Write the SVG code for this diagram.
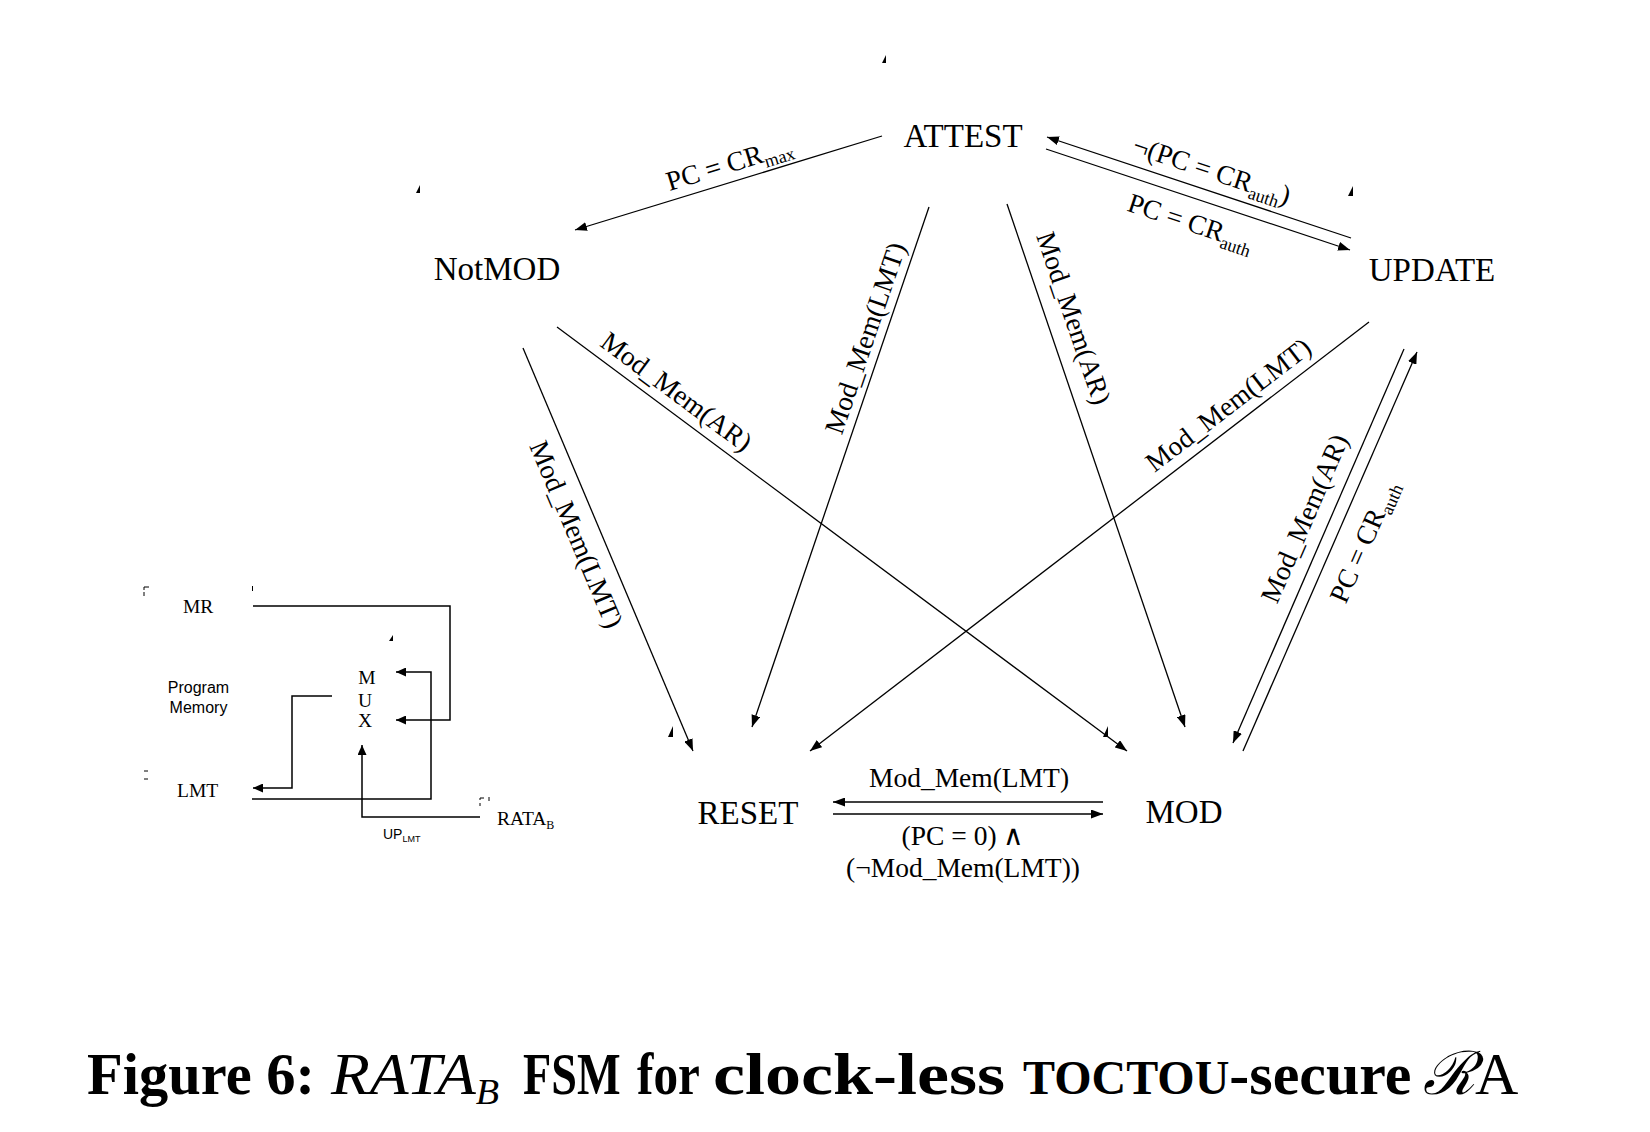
<svg xmlns="http://www.w3.org/2000/svg" width="1650" height="1132" viewBox="0 0 1650 1132">
<style>
.st{font-family:"Liberation Serif","Times New Roman",serif;font-size:33px;fill:#000}
.lb{font-family:"Liberation Serif","Times New Roman",serif;font-size:27.5px;fill:#000}
.sub{font-size:18px}
.e{stroke:#000;stroke-width:1.3;fill:none;marker-end:url(#ah)}
.m{stroke:#000;stroke-width:1.5;fill:none;marker-end:url(#ah2)}
.mt{font-family:"Liberation Serif","Times New Roman",serif;font-size:19.5px;fill:#000}
.sans{font-family:"Liberation Sans",Arial,sans-serif;fill:#000}
.cap{font-family:"Liberation Serif","Times New Roman",serif;font-size:60px;fill:#000}
.b{font-weight:bold}
.i{font-style:italic}
.art{fill:#000}
.mk{stroke:#000;stroke-width:1;fill:none}
</style>
<defs>
<marker id="ah" markerUnits="userSpaceOnUse" markerWidth="13" markerHeight="9" refX="12" refY="4.5" orient="auto">
<path d="M0,0 L12,4.5 L0,9 z" fill="#000"/>
</marker>
<marker id="ah2" markerUnits="userSpaceOnUse" markerWidth="11" markerHeight="9" refX="10" refY="4.5" orient="auto">
<path d="M0,0 L10,4.5 L0,9 z" fill="#000"/>
</marker>
</defs>
<rect width="1650" height="1132" fill="#fff"/>

<g id="connectors">
<line class="e" x1="882" y1="136" x2="575" y2="230"/>
<line class="e" x1="1351" y1="238" x2="1047" y2="137"/>
<line class="e" x1="1046" y1="149" x2="1350" y2="250"/>
<line class="e" x1="557" y1="327" x2="1127" y2="751"/>
<line class="e" x1="523" y1="348" x2="693" y2="751"/>
<line class="e" x1="929" y1="207" x2="752" y2="727"/>
<line class="e" x1="1007" y1="204" x2="1185" y2="727"/>
<line class="e" x1="1369" y1="322" x2="810" y2="751"/>
<line class="e" x1="1404" y1="349" x2="1233" y2="743"/>
<line class="e" x1="1243" y1="751" x2="1417" y2="352"/>
<line class="e" x1="1103" y1="802" x2="833" y2="802"/>
<line class="e" x1="833" y1="814" x2="1103" y2="814"/>

<text class="lb" text-anchor="middle" transform="translate(732,172) rotate(-17)">PC = CR<tspan class="sub" dy="6">max</tspan></text>
<text class="lb" text-anchor="middle" transform="translate(1209,179) rotate(18.4)">¬(PC = CR<tspan class="sub" dy="6">auth</tspan><tspan dy="-6">)</tspan></text>
<text class="lb" text-anchor="middle" transform="translate(1188,231) rotate(18.4)">PC = CR<tspan class="sub" dy="6">auth</tspan></text>
<text class="lb" text-anchor="middle" transform="translate(671,399) rotate(36.6)">Mod_Mem(AR)</text>
<text class="lb" text-anchor="middle" transform="translate(568,538) rotate(67.1)">Mod_Mem(LMT)</text>
<text class="lb" text-anchor="middle" transform="translate(874,341) rotate(-71.2)">Mod_Mem(LMT)</text>
<text class="lb" text-anchor="middle" transform="translate(1065,321) rotate(71.2)">Mod_Mem(AR)</text>
<text class="lb" text-anchor="middle" transform="translate(1234,412) rotate(-37.5)">Mod_Mem(LMT)</text>
<text class="lb" text-anchor="middle" transform="translate(1313,522) rotate(-66.5)">Mod_Mem(AR)</text>
<text class="lb" text-anchor="middle" transform="translate(1372,545) rotate(-66.4)">PC = CR<tspan class="sub" dy="6">auth</tspan></text>
<text class="lb" text-anchor="middle" x="969" y="787">Mod_Mem(LMT)</text>
<text class="lb" text-anchor="middle" x="963" y="845">(PC = 0) ∧</text>
<text class="lb" text-anchor="middle" x="963" y="877">(¬Mod_Mem(LMT))</text>
</g>

<g id="node-attest"><text class="st" text-anchor="middle" x="963" y="147">ATTEST</text></g>
<g id="node-notmod"><text class="st" text-anchor="middle" x="497" y="280">NotMOD</text></g>
<g id="node-update"><text class="st" text-anchor="middle" x="1432" y="281">UPDATE</text></g>
<g id="node-reset"><text class="st" text-anchor="middle" x="748" y="824">RESET</text></g>
<g id="node-mod"><text class="st" text-anchor="middle" x="1184" y="823">MOD</text></g>

<g id="artifacts">
<polygon class="art" points="882,63 886,55 886,63"/>
<polygon class="art" points="416,193 420,185 420,193"/>
<polygon class="art" points="1348,196 1353,186 1353,196"/>
<polygon class="art" points="668,737 673,726 673,737"/>
<polygon class="art" points="1103,737 1108,726 1108,737"/>
<polygon class="art" points="389,641 393,635 393,641"/>
<path class="mk" d="M144,587 h5 M144,587 v3 M144,592 v4 M252.5,586 v5 M144,771 h4 M144,779 h4 M480,798 h4 M480,798 v2 M480,803 v3 M489,797 v4"/>
</g>

<g id="hw-block">
<text class="mt" x="183" y="613">MR</text>
<text class="mt" x="177" y="797">LMT</text>
<text class="sans" font-size="16" text-anchor="middle" x="198.5" y="693">Program</text>
<text class="sans" font-size="16" text-anchor="middle" x="198.5" y="713">Memory</text>
<text class="mt" text-anchor="middle" x="367" y="684">M</text>
<text class="mt" text-anchor="middle" x="365" y="707">U</text>
<text class="mt" text-anchor="middle" x="365" y="727">X</text>
<text class="mt" font-size="18.5" x="497" y="825">RATA<tspan font-size="12" dy="4">B</tspan></text>
<text class="sans" font-size="14" x="383" y="839">UP<tspan font-size="9" dy="3">LMT</tspan></text>
<path class="m" d="M253,606 H450 V720 H396"/>
<path class="m" d="M252,799 H431 V672 H396"/>
<path class="m" d="M332,696 H292 V788 H253"/>
<path class="m" d="M480,817 H362 V745"/>
</g>

<g id="caption">
<text class="cap b" transform="translate(87,1094) scale(0.975,1)">Figure 6:</text>
<text class="cap i" transform="translate(331,1094) scale(1.06,1)">RATA<tspan font-size="36" dy="10">B</tspan></text>
<text class="cap b" transform="translate(523,1094) scale(0.77,1)">FSM</text>
<text class="cap b" transform="translate(637,1094) scale(0.82,1)">for</text>
<text class="cap b" transform="translate(713,1094) scale(1.2,1)">clock-less</text>
<text class="cap b" x="1023" y="1094"><tspan font-size="48">TOCTOU</tspan>-secure</text>
<text class="cap" x="1423" y="1094"><tspan class="i">ℛ</tspan>A</text>
</g>
</svg>
